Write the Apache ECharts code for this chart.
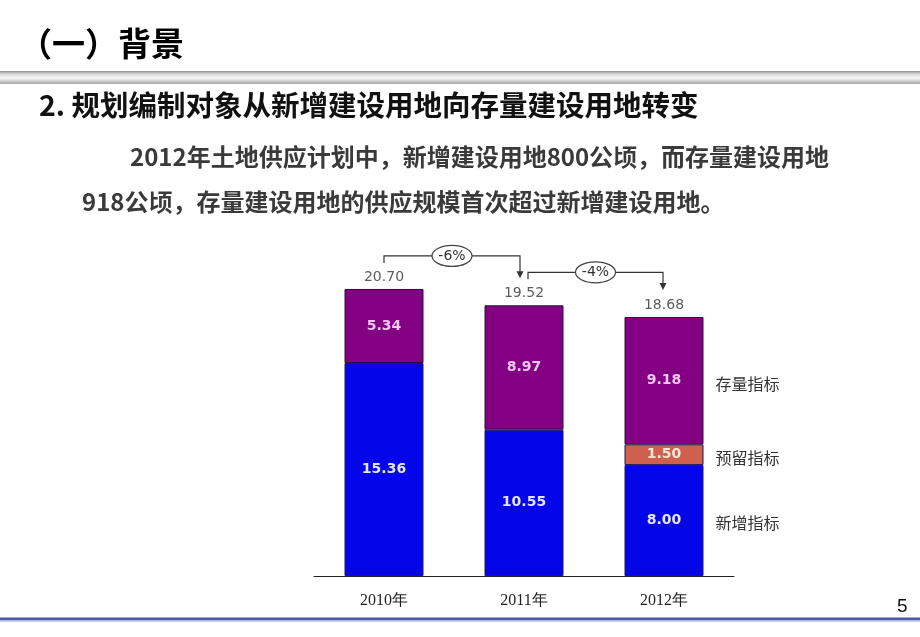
<!DOCTYPE html>
<html>
<head>
<meta charset="utf-8">
<script src="https://cdn.jsdelivr.net/npm/echarts@6/dist/echarts.min.js"></script>
<style>
html,body{margin:0;padding:0;background:#fff;}
#main{width:920px;height:637px;}
</style>
</head>
<body>
<div id="main"></div>
<script>
// ---- data ----
var categories = ['2010年', '2011年', '2012年'];
var newIndex = [15.36, 10.55, 8.00];      // 新增指标
var reserveIndex = [null, null, 1.50];    // 预留指标
var stockIndex = [5.34, 8.97, 9.18];      // 存量指标
var totals = [20.70, 19.52, 18.68];
var changes = ['-6%', '-4%'];
var seriesNames = ['新增指标', '预留指标', '存量指标'];

var chart = echarts.init(document.getElementById('main'), null, {renderer: 'canvas'});

var cjk = '"Noto Sans CJK SC", "Noto Sans", sans-serif';
var numFont = '"DejaVu Sans", "Liberation Sans", sans-serif';

function insideLabel(color) {
  return {
    show: true, position: 'inside', color: color,
    fontSize: 14, fontWeight: 'bold', fontFamily: numFont,
    formatter: function (p) { return p.value == null ? '' : p.value.toFixed(2); }
  };
}

var option = {
  animation: false,
  backgroundColor: '#ffffff',
  grid: {left: 314, width: 420, top: 160, height: 416},
  xAxis: {
    type: 'category', data: categories,
    axisLine: {lineStyle: {color: '#222', width: 1}},
    axisTick: {show: false},
    axisLabel: {color: '#222', fontSize: 16, margin: 17, fontFamily: '"Liberation Serif", serif'}
  },
  yAxis: {type: 'value', min: 0, max: 30, show: false, splitLine: {show: false}},
  series: [
    {name: seriesNames[0], type: 'bar', stack: 't', data: newIndex, barWidth: 79,
     itemStyle: {color: '#0505ea', borderColor: '#1b1b55', borderWidth: 1},
     label: insideLabel('#e4e4ff')},
    {name: seriesNames[1], type: 'bar', stack: 't', data: reserveIndex, barWidth: 79,
     itemStyle: {color: '#cf604e', borderColor: '#1b1b55', borderWidth: 1},
     label: insideLabel('#ffe6da')},
    {name: seriesNames[2], type: 'bar', stack: 't', data: stockIndex, barWidth: 79,
     itemStyle: {color: '#830083', borderColor: '#2a1040', borderWidth: 1},
     label: insideLabel('#f6c6f6')},
    {name: 'total', type: 'scatter', data: totals, symbolSize: 0, z: 5,
     label: {show: true, position: 'top', distance: 5, color: '#333', fontSize: 14,
             fontFamily: numFont,
             formatter: function (p) { return p.value.toFixed(2); }}}
  ],
  graphic: [
    {type: 'text', left: 19, top: 27, style: {text: '（一）背景', font: 'bold 33px ' + cjk, fill: '#000'}},
    {type: 'rect', shape: {x: 0, y: 71, width: 920, height: 13},
     style: {fill: new echarts.graphic.LinearGradient(0, 0, 0, 1, [
       {offset: 0, color: '#8e8e8e'}, {offset: 0.25, color: '#dcdcdc'},
       {offset: 0.55, color: '#f6f6f6'}, {offset: 1, color: '#a4a4a4'}])}},
    {type: 'text', left: 39, top: 91, style: {text: '2. 规划编制对象从新增建设用地向存量建设用地转变', font: 'bold 28.5px ' + cjk, fill: '#111'}},
    {type: 'text', left: 130, top: 145, style: {text: '2012年土地供应计划中，新增建设用地800公顷，而存量建设用地', font: 'bold 24px ' + cjk, fill: '#3a3a3a'}},
    {type: 'text', left: 82, top: 190, style: {text: '918公顷，存量建设用地的供应规模首次超过新增建设用地。', font: 'bold 24px ' + cjk, fill: '#3a3a3a'}},
    {type: 'text', left: 897, top: 597, style: {text: '5', font: '19px "Liberation Sans", sans-serif', fill: '#111'}},
    {type: 'rect', shape: {x: 0, y: 617.5, width: 920, height: 3}, style: {fill: '#4a5aa6'}},
    {type: 'rect', shape: {x: 0, y: 620.5, width: 920, height: 1.5}, style: {fill: '#c6cce6'}}
  ]
};
chart.setOption(option);

// ---- annotations placed through the chart's own scales ----
var extra = [];
var grey = '#333';
function px(i, v) { return chart.convertToPixel({xAxisIndex: 0, yAxisIndex: 0}, [i, v]); }

// right-side series names next to the last bar
var last = categories.length - 1;
var halfBar = 79 / 2;
var b0 = px(last, 0), b1 = px(last, newIndex[last]);
var b2 = px(last, newIndex[last] + reserveIndex[last]);
var b3 = px(last, totals[last]);
var mids = [(b0[1] + b1[1]) / 2, (b1[1] + b2[1]) / 2, (b2[1] + b3[1]) / 2];
for (var k = 0; k < 3; k++) {
  extra.push({type: 'text', x: b0[0] + halfBar + 12, y: mids[k] + [2, 3, 3][k],
    style: {text: seriesNames[k], font: '16px ' + cjk, fill: '#333', textVerticalAlign: 'middle'}});
}

// change brackets
for (var i = 0; i < totals.length - 1; i++) {
  var a = px(i, totals[i]), b = px(i + 1, totals[i + 1]);
  var sx = a[0] + (i === 0 ? 0 : 4);
  var ex = b[0] - (i === 0 ? 4 : 1);
  var sy = a[1] - 26, hy = a[1] - 33, ey = b[1] - 27;
  extra.push({type: 'polyline', shape: {points: [[sx, sy], [sx, hy], [ex, hy], [ex, ey - 6]]},
    style: {stroke: grey, lineWidth: 1.2, fill: null}, z: 10});
  extra.push({type: 'polygon', shape: {points: [[ex - 3.5, ey - 7], [ex + 3.5, ey - 7], [ex, ey]]},
    style: {fill: grey}, z: 10});
  var cx = (sx + ex) / 2;
  extra.push({type: 'ellipse', shape: {cx: cx, cy: hy, rx: 20, ry: 10.5},
    style: {fill: '#fff', stroke: '#444', lineWidth: 1.2}, z: 11});
  extra.push({type: 'text', x: cx, y: hy, z: 12,
    style: {text: changes[i], font: '14px ' + numFont, fill: '#333', textAlign: 'center', textVerticalAlign: 'middle'}});
}
chart.setOption({graphic: option.graphic.concat(extra)});
</script>
</body>
</html>
